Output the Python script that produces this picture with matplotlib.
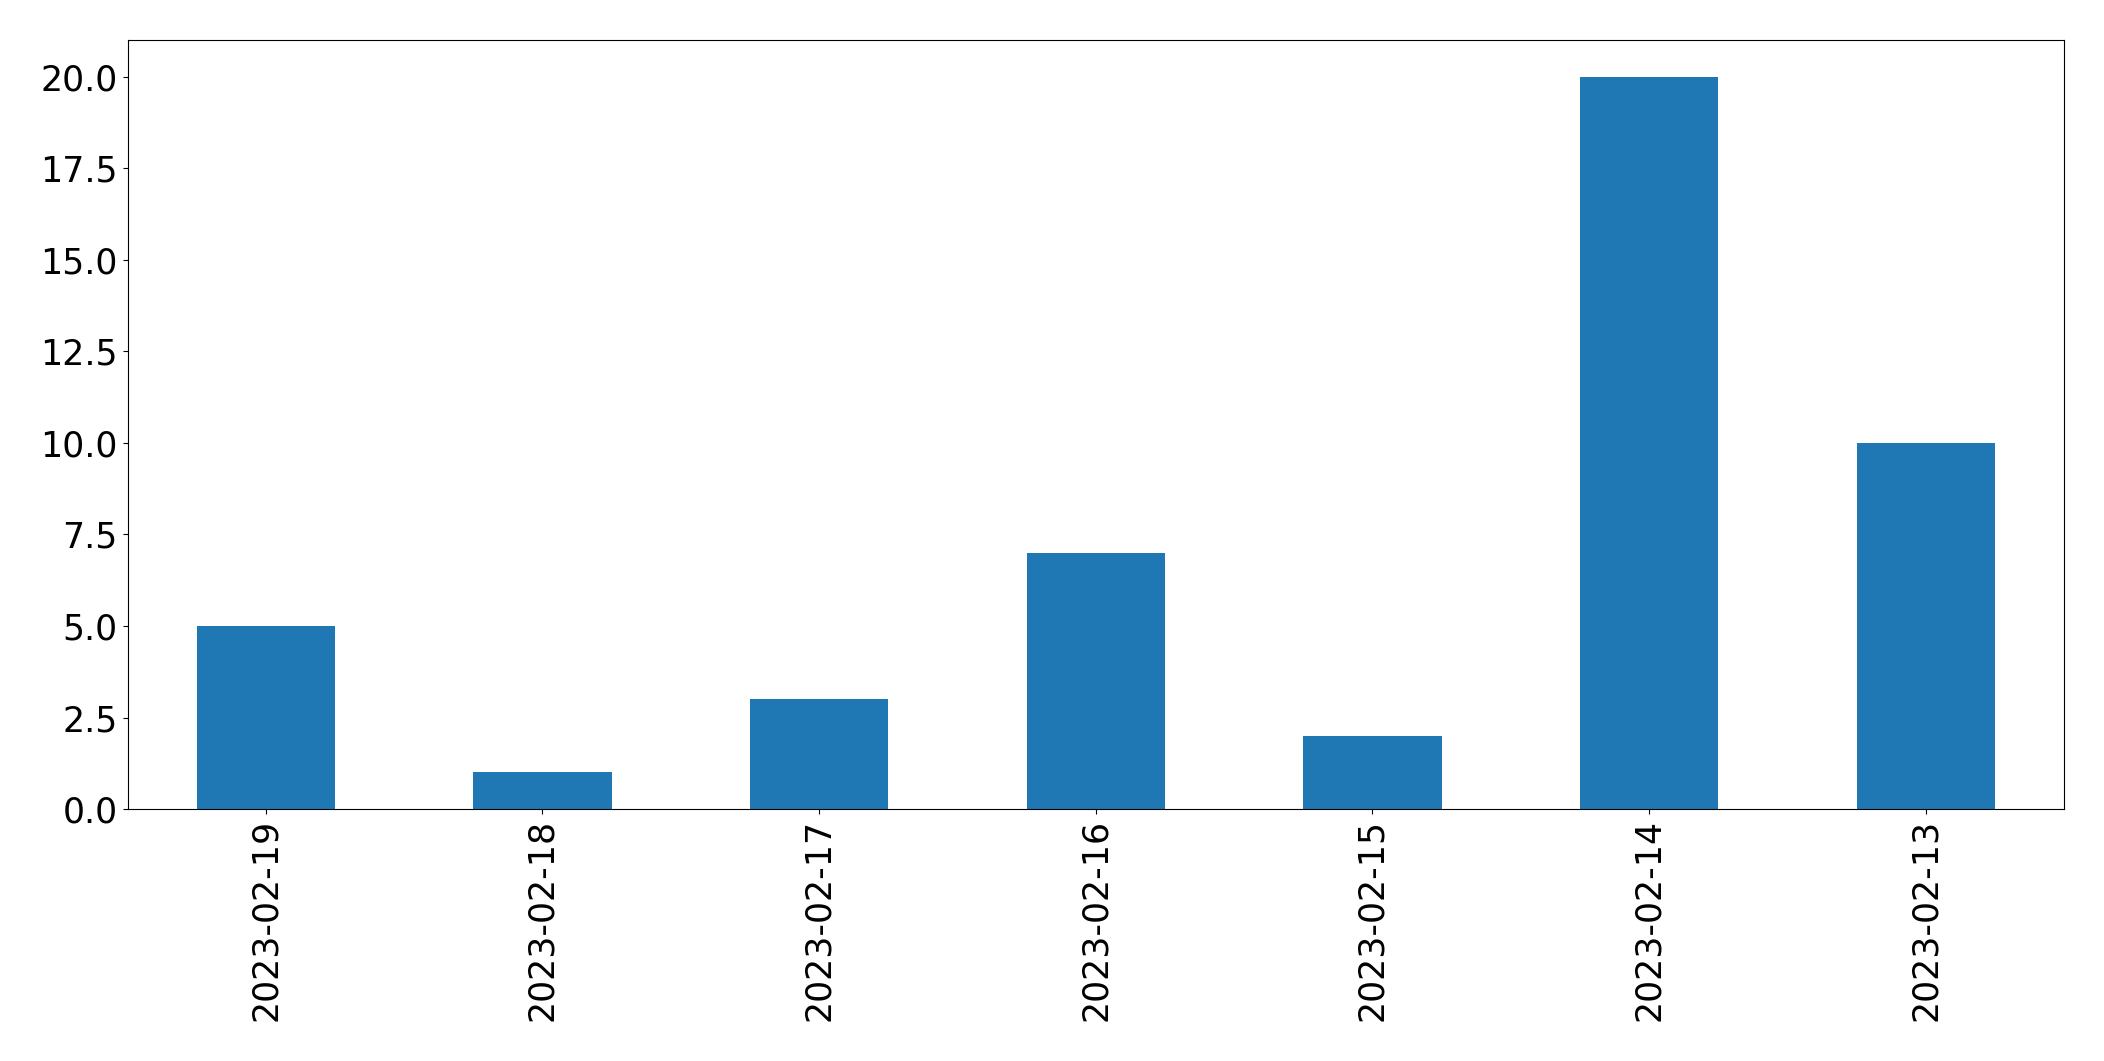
import matplotlib
matplotlib.use('Agg')
import matplotlib.pyplot as plt
import pandas as pd

# 每日数量
dates = ['2023-02-19', '2023-02-18', '2023-02-17', '2023-02-16',
         '2023-02-15', '2023-02-14', '2023-02-13']
counts = [5, 1, 3, 7, 2, 20, 10]

s = pd.Series(counts, index=dates)

fig, ax = plt.subplots(figsize=(21.04, 10.61), dpi=100)
s.plot(kind='bar', ax=ax, color='#1f77b4')
ax.tick_params(axis='both', labelsize=25)
ax.set_xlabel('')

fig.subplots_adjust(left=0.0606, right=0.981, top=0.962, bottom=0.2375)
fig.savefig('out.png', dpi=100)
